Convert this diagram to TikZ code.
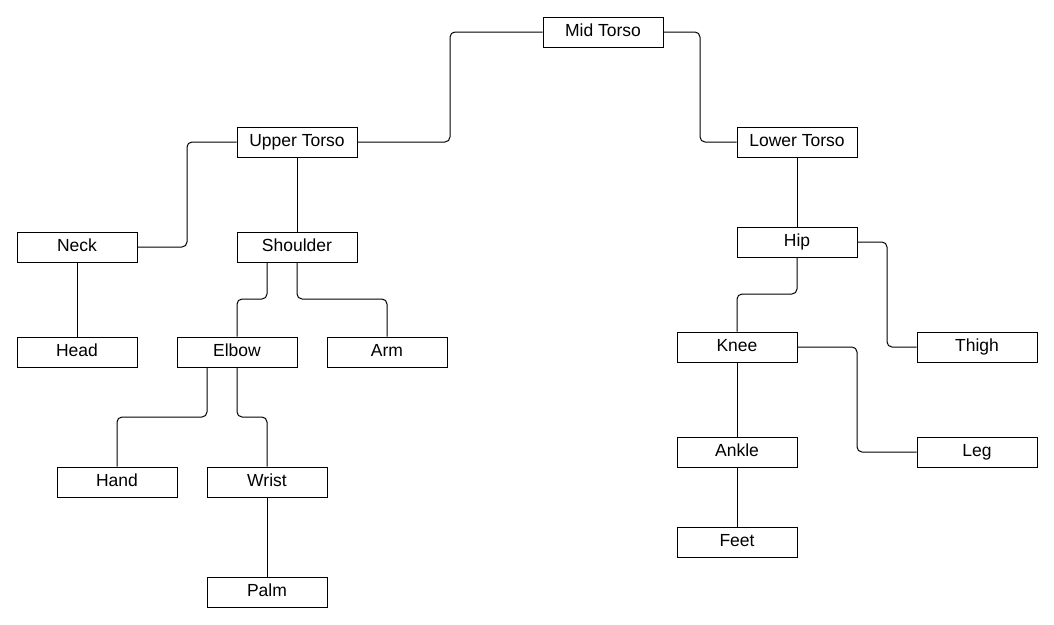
\documentclass[tikz,border=0pt]{standalone}
\usepackage{fontspec}
\setmainfont{Liberation Sans}
\begin{document}
\begin{tikzpicture}[x=1pt,y=-1pt,
  part/.style={draw,line width=1pt,minimum width=120pt,minimum height=30pt,inner sep=0pt,
    text height=12.5pt,text depth=3.5pt,font=\fontsize{17.5}{19}\selectfont},
  link/.style={line width=1pt,rounded corners=5pt}]
\useasboundingbox (0,0) rectangle (1054,624);
\node[part] (mid) at (603,32) {Mid Torso};
\node[part] (upper) at (297,142) {Upper Torso};
\node[part] (lower) at (797,142) {Lower Torso};
\node[part] (neck) at (77,247) {Neck};
\node[part] (shoulder) at (297,247) {Shoulder};
\node[part] (head) at (77,352) {Head};
\node[part] (elbow) at (237,352) {Elbow};
\node[part] (arm) at (387,352) {Arm};
\node[part] (hand) at (117,482) {Hand};
\node[part] (wrist) at (267,482) {Wrist};
\node[part] (palm) at (267,592) {Palm};
\node[part] (hip) at (797,242) {Hip};
\node[part] (knee) at (737,347) {Knee};
\node[part] (thigh) at (977,347) {Thigh};
\node[part] (ankle) at (737,452) {Ankle};
\node[part] (leg) at (977,452) {Leg};
\node[part] (feet) at (737,542) {Feet};
% connectors
\draw[link] (mid.west) -- (450,32) -- (450,142) -- (upper.east);
\draw[link] (mid.east) -- (700,32) -- (700,142) -- (lower.west);
\draw[link] (upper.west) -- (187,142) -- (187,247) -- (neck.east);
\draw[link] (upper.south) -- (shoulder.north);
\draw[link] (neck.south) -- (head.north);
\draw[link] ([xshift=-30pt]shoulder.south) -- (267,299) -- (237,299) -- (elbow.north);
\draw[link] (shoulder.south) -- (297,299) -- (387,299) -- (arm.north);
\draw[link] ([xshift=-30pt]elbow.south) -- (207,417) -- (117,417) -- (hand.north);
\draw[link] (elbow.south) -- (237,417) -- (267,417) -- (wrist.north);
\draw[link] (wrist.south) -- (palm.north);
\draw[link] (lower.south) -- (hip.north);
\draw[link] (hip.south) -- (797,294) -- (737,294) -- (knee.north);
\draw[link] (hip.east) -- (887,242) -- (887,347) -- (thigh.west);
\draw[link] (knee.east) -- (857,347) -- (857,452) -- (leg.west);
\draw[link] (knee.south) -- (ankle.north);
\draw[link] (ankle.south) -- (feet.north);
\end{tikzpicture}
\end{document}
